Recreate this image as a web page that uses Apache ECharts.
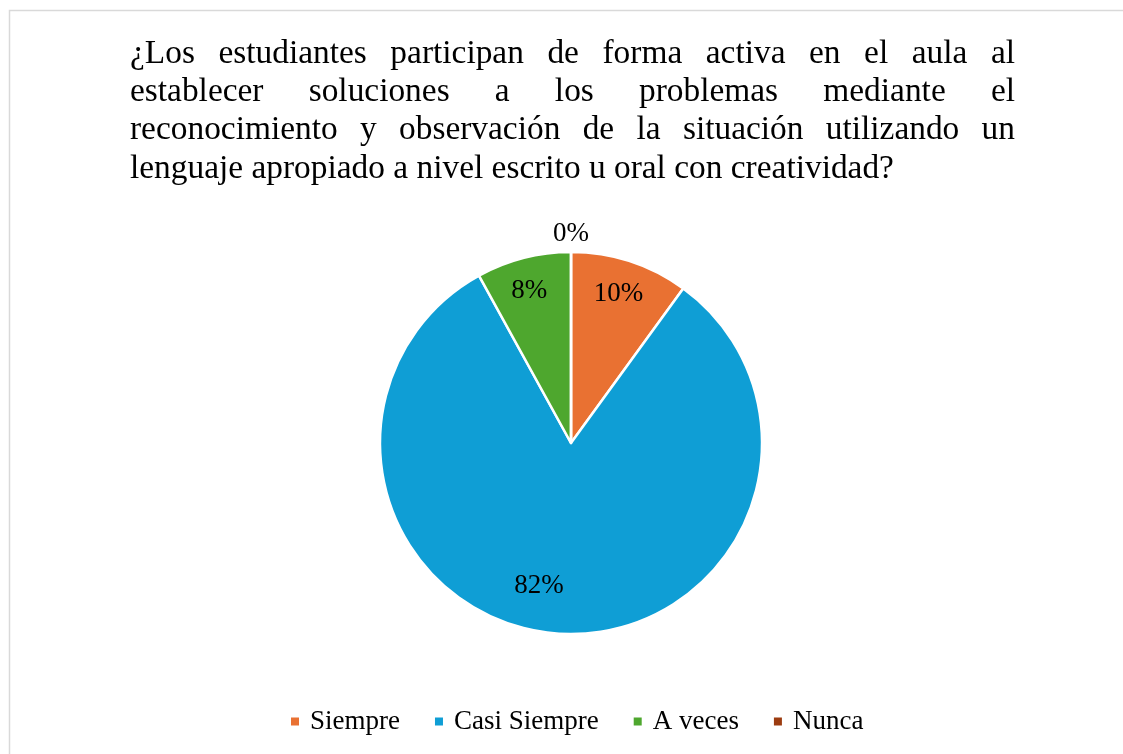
<!DOCTYPE html>
<html>
<head>
<meta charset="utf-8">
<script src="https://cdn.jsdelivr.net/npm/echarts@6/dist/echarts.min.js"></script>
<style>
  html, body { margin: 0; padding: 0; background: #fff; }
  #chart { width: 1123px; height: 754px; }
</style>
</head>
<body>
<div id="chart"></div>
<script>
  var titleLines = [
    '¿Los estudiantes participan de forma activa en el aula al',
    'establecer soluciones a los problemas mediante el',
    'reconocimiento y observación de la situación utilizando un',
    'lenguaje apropiado a nivel escrito u oral con creatividad?'
  ];
  var categories = ['Siempre', 'Casi Siempre', 'A veces', 'Nunca'];
  var percents = [10, 82, 8, 0];
  var colors = ['#E97132', '#0F9ED5', '#4EA72E', '#9C3C10'];

  var FONT = '"Liberation Serif", "Times New Roman", serif';
  var myChart = echarts.init(document.getElementById('chart'));

  // justified title, one text element per word
  var titleSize = 33.4;
  var ctx = document.createElement('canvas').getContext('2d');
  ctx.font = titleSize + 'px ' + FONT;
  var tLeft = 130, tRight = 1015, tTop = 54, lineH = 38.3;

  var graphics = [{
    type: 'rect',
    shape: { x: 9.5, y: 10.5, width: 1200, height: 1000 },
    style: { fill: 'none', stroke: '#d9d9d9', lineWidth: 1.5 },
    silent: true
  }];

  titleLines.forEach(function (line, i) {
    var words = line.split(' ');
    var widths = words.map(function (w) { return ctx.measureText(w).width; });
    var total = widths.reduce(function (s, w) { return s + w; }, 0);
    var isLast = i === titleLines.length - 1;
    var gap = isLast ? ctx.measureText(' ').width : (tRight - tLeft - total) / (words.length - 1);
    var x = tLeft;
    words.forEach(function (w, k) {
      graphics.push({
        type: 'text',
        x: x,
        y: tTop + i * lineH,
        style: {
          text: w,
          fontSize: titleSize,
          fontFamily: FONT,
          fill: '#000',
          verticalAlign: 'middle'
        },
        silent: true
      });
      x += widths[k] + gap;
    });
  });

  var pieData = categories.map(function (c, i) {
    return { name: c, value: percents[i], itemStyle: { color: colors[i] } };
  });

  var option = {
    backgroundColor: '#fff',
    animation: false,
    graphic: graphics,
    legend: {
      left: 289,
      top: 708,
      padding: 0,
      icon: 'rect',
      itemWidth: 10,
      itemHeight: 10,
      itemGap: 33,
      textStyle: { fontSize: 27, fontFamily: FONT, color: '#000', padding: [0, 0, 0, 5] },
      data: categories.map(function (c, i) {
        return { name: c, itemStyle: { color: colors[i] } };
      })
    },
    series: [
      {
        type: 'pie',
        center: [571, 443],
        radius: 191,
        startAngle: 90,
        clockwise: true,
        silent: true,
        data: pieData,
        itemStyle: { borderColor: '#fff', borderWidth: 2.5 },
        label: { show: false },
        labelLine: { show: false }
      },
      {
        // label carrier: places labels at ~0.82 of the radius
        type: 'pie',
        center: [571, 443],
        radius: [123, 191],
        startAngle: 90,
        clockwise: true,
        silent: true,
        data: categories.map(function (c, i) {
          return { name: c, value: percents[i] };
        }),
        itemStyle: { color: 'rgba(0,0,0,0)', borderWidth: 0 },
        label: {
          show: true,
          position: 'inside',
          formatter: '{c}%',
          fontSize: 27,
          fontFamily: FONT,
          color: '#000'
        },
        labelLine: { show: false },
        labelLayout: function (p) {
          if (percents[p.dataIndex] === 0) return { dy: -49 };
          if (percents[p.dataIndex] > 50) return { dx: -22, dy: -17 };
          return { dx: -2, dy: 3 };
        }
      }
    ]
  };

  myChart.setOption(option);
</script>
</body>
</html>
